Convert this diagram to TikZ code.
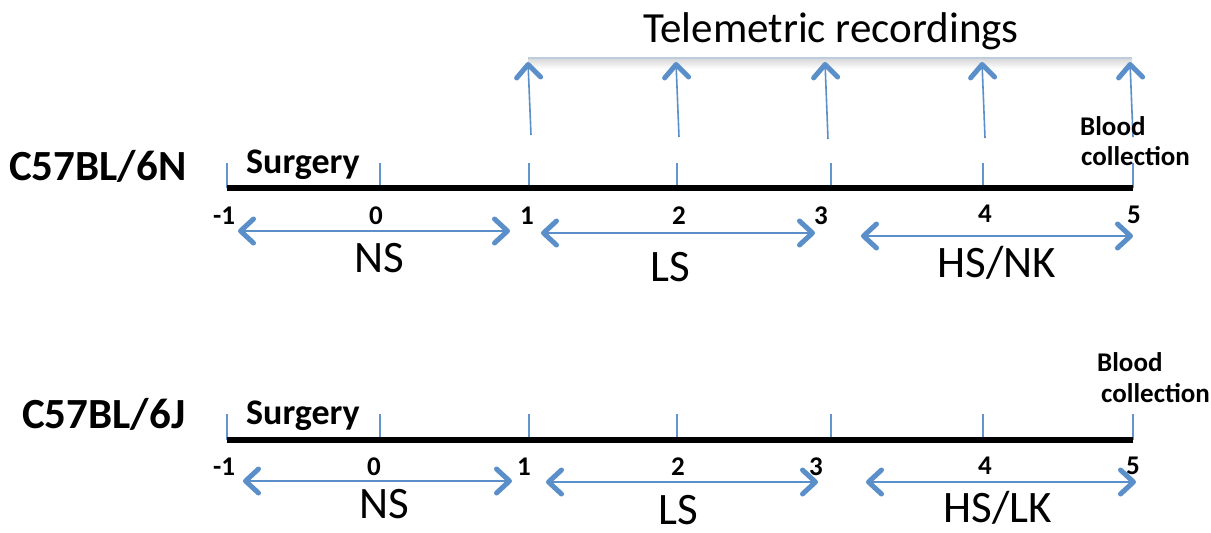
\documentclass[tikz,border=0pt]{standalone}
\usepackage{fontspec}
\setmainfont{Carlito}
\usetikzlibrary{arrows.meta}
\definecolor{ablue}{RGB}{90,143,202}
\definecolor{tblue}{RGB}{100,150,205}
\definecolor{lgrey}{RGB}{190,205,222}
\tikzset{
  barline/.style={line width=6pt, black},
  tickline/.style={draw=tblue, line width=1.4pt},
  barb/.tip={Straight Barb[line width=5pt,length=13pt,width=24pt,round]},
  spanarrow/.style={draw=ablue, line width=2pt, barb-barb},
  uparrow/.style={draw=ablue, line width=1.6pt, -barb},
  numlab/.style={font=\bfseries\fontsize{27}{30}\selectfont, inner sep=0pt, anchor=base},
  strain/.style={font=\bfseries\fontsize{43}{48}\selectfont, inner sep=0pt, anchor=base west},
  surg/.style={font=\bfseries\fontsize{36}{40}\selectfont, inner sep=0pt, anchor=base west},
  blood/.style={font=\bfseries\fontsize{27}{30}\selectfont, inner sep=0pt, anchor=base west},
  phase/.style={font=\fontsize{45}{50}\selectfont, inner sep=0pt, anchor=base},
  title/.style={font=\fontsize{43}{48}\selectfont, inner sep=0pt, anchor=base}
}
\begin{document}
\begin{tikzpicture}[x=1pt,y=-1pt]
\useasboundingbox (0,0) rectangle (1211,533);
\fill[white] (0,0) rectangle (1211,533);

% ---------- coordinates ----------
\foreach \n/\x in {m1/227,z0/380,o1/529,t2/677,th3/831,f4/983,f5/1133}{
  \coordinate (A\n) at (\x,188);
  \coordinate (A\n top) at (\x,163);
  \coordinate (B\n) at (\x,440);
  \coordinate (B\n top) at (\x,414);
}

% ticks
\foreach \n in {m1,z0,o1,t2,th3,f4,f5}{
  \draw[tickline] (A\n) -- (A\n top);
  \draw[tickline] (B\n) -- (B\n top);
}
% bars
\draw[barline] (Am1) -- (Af5);
\draw[barline] (Bm1) -- (Bf5);

% ---------- telemetric recordings ----------
\node[title] (tele) at (831,42) {Telemetric recordings};
\coordinate (gl) at (528,58);
\coordinate (gr) at (1132,58);
\shade[top color=black!16, bottom color=white] (528,58) rectangle (1132,69);
\draw[lgrey, line width=1.6pt] (gl) -- (gr);

\foreach \i/\bx/\by/\tx in {1/531/135/528,2/679/137/676,3/828/139/825,4/985/138/982,5/1133/137/1130}{
  \coordinate (u\i b) at (\bx,\by);
  \coordinate (u\i t) at (\tx,62);
  \draw[uparrow] (u\i b) -- (u\i t);
}

% ---------- top row labels ----------
\node[strain] (strainN) at (9,180) {C57BL/6N};
\node[surg] (surgN) at (246,173) {Surgery};
\node[blood] (bloodN1) at (1080,135) {Blood};
\node[blood] (bloodN2) at (1081,165) {collection};

\node[numlab] (nAm1) at (224,224) {-1};
\node[numlab] (nAz0) at (376,224) {0};
\node[numlab] (nAo1) at (527,224) {1};
\node[numlab] (nAt2) at (679,224) {2};
\node[numlab] (nAth3) at (821,224) {3};
\node[numlab] (nAf4) at (985,222) {4};
\node[numlab] (nAf5) at (1134,223) {5};

\coordinate (sA1l) at (238,231);  \coordinate (sA1r) at (510,231);
\coordinate (sA2l) at (541,233);  \coordinate (sA2r) at (815,233);
\coordinate (sA3l) at (861,236);  \coordinate (sA3r) at (1133,236);
\draw[spanarrow] (sA1l) -- (sA1r);
\draw[spanarrow] (sA2l) -- (sA2r);
\draw[spanarrow] (sA3l) -- (sA3r);

\node[phase] (phA1) at (379,272) {NS};
\node[phase] (phA2) at (670,281) {LS};
\node[phase] (phA3) at (997,277) {HS/NK};

% ---------- bottom row labels ----------
\node[strain] (strainJ) at (22,428) {C57BL/6J};
\node[surg] (surgJ) at (246,424) {Surgery};
\node[blood] (bloodJ1) at (1097,371) {Blood};
\node[blood] (bloodJ2) at (1101,402) {collection};

\node[numlab] (nBm1) at (224,475) {-1};
\node[numlab] (nBz0) at (374,475) {0};
\node[numlab] (nBo1) at (524,475) {1};
\node[numlab] (nBt2) at (678,475) {2};
\node[numlab] (nBth3) at (816,475) {3};
\node[numlab] (nBf4) at (985,474) {4};
\node[numlab] (nBf5) at (1133,474) {5};

\coordinate (sB1l) at (243,481);  \coordinate (sB1r) at (512,481);
\coordinate (sB2l) at (546,482);  \coordinate (sB2r) at (818,482);
\coordinate (sB3l) at (866,482);  \coordinate (sB3r) at (1136,482);
\draw[spanarrow] (sB1l) -- (sB1r);
\draw[spanarrow] (sB2l) -- (sB2r);
\draw[spanarrow] (sB3l) -- (sB3r);

\node[phase] (phB1) at (384,518) {NS};
\node[phase] (phB2) at (678,524) {LS};
\node[phase] (phB3) at (998,522) {HS/LK};
\end{tikzpicture}
\end{document}
